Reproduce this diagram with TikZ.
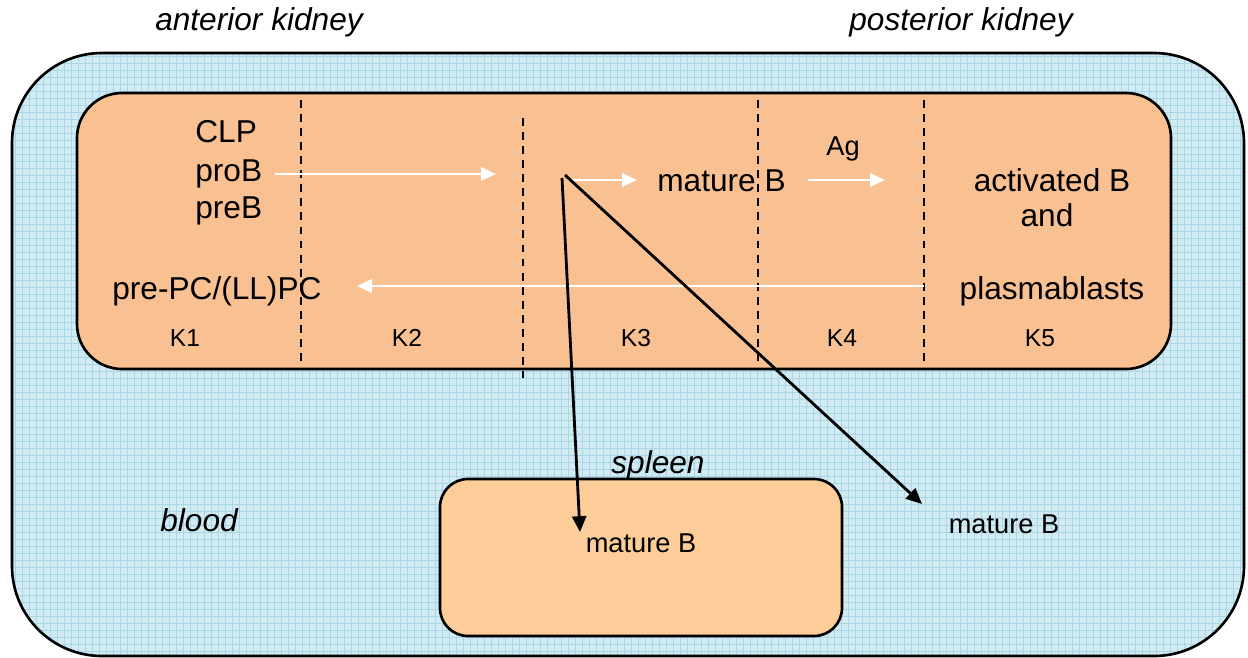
\documentclass[tikz,border=0pt]{standalone}
\usepackage{fontspec}
\setmainfont{Liberation Sans}
\usetikzlibrary{arrows.meta}
\definecolor{bloodblue}{RGB}{210,235,243}
\definecolor{gridblue}{RGB}{170,215,229}
\definecolor{kidney}{RGB}{249,193,145}
\definecolor{spleenfill}{RGB}{252,204,153}
\begin{document}
\begin{tikzpicture}[x=0.02cm,y=-0.02cm,
  big/.style={font=\fontsize{18}{21}\selectfont,inner sep=0pt},
  mid/.style={font=\fontsize{15.5}{18}\selectfont,inner sep=0pt},
  small/.style={font=\fontsize{14}{17}\selectfont,inner sep=0pt},
  wharrow/.style={white,line width=1.6pt,-{Triangle[length=8.5pt,width=7.5pt]}},
  bkarrow/.style={black,line width=1.6pt,-{Triangle[length=9pt,width=8pt]}},
  zone/.style={line width=1.1pt,dash pattern=on 4.5pt off 3.5pt}]
  \useasboundingbox (0,0) rectangle (1248,657);
  % blood
  \begin{scope}
    \clip[rounded corners=1.8cm] (12,53) rectangle (1244,656);
    \fill[bloodblue] (12,53) rectangle (1244,656);
    \foreach \gx in {15,22,...,1244}
      \draw[gridblue,line width=0.5pt] (\gx,53) -- (\gx,656);
    \foreach \gy in {56,63,...,656}
      \draw[gridblue,line width=0.5pt] (12,\gy) -- (1244,\gy);
  \end{scope}
  \draw[line width=1.5pt,rounded corners=1.8cm] (12,53) rectangle (1244,656);
  % kidney and spleen
  \draw[fill=kidney,line width=1.5pt,rounded corners=0.9cm] (77,93) rectangle (1171,369);
  \draw[fill=spleenfill,line width=1.5pt,rounded corners=0.56cm] (440,479) rectangle (842,636);
  % zones
  \draw[zone] (301,100) -- (301,362);
  \draw[zone] (523,118) -- (523,378);
  \draw[zone] (758,100) -- (758,362);
  \draw[zone] (924,100) -- (924,365);
  % texts
  \node[big,font=\fontsize{18}{21}\selectfont\itshape] (ant) at (259,22) {anterior kidney};
  \node[big,font=\fontsize{18}{21}\selectfont\itshape] (post) at (961,22) {posterior kidney};
  \node[big,anchor=base west] (clp) at (195,142) {CLP};
  \node[big,anchor=base west] (prob) at (195,181) {proB};
  \node[big,anchor=base west] (preb) at (195,218) {preB};
  \node[big,anchor=base west] (mat) at (657,191) {mature B};
  \node[mid,anchor=base] (ag) at (843,155) {Ag};
  \node[big,anchor=base] (act) at (1052,191) {activated B};
  \node[big,anchor=base] (and) at (1047,226) {and};
  \node[big,anchor=base] (plasma) at (1052,299) {plasmablasts};
  \node[big,anchor=base west] (prepc) at (112,299) {pre-PC/(LL)PC};
  \node[small,anchor=base] (k1) at (185,346) {K1};
  \node[small,anchor=base] (k2) at (407,346) {K2};
  \node[small,anchor=base] (k3) at (636,346) {K3};
  \node[small,anchor=base] (k4) at (842,346) {K4};
  \node[small,anchor=base] (k5) at (1040,346) {K5};
  \node[big,font=\fontsize{18}{21}\selectfont\itshape,anchor=base] (spleen) at (658,473) {spleen};
  \node[big,font=\fontsize{18}{21}\selectfont\itshape,anchor=base] (blood) at (199,531) {blood};
  \node[mid,anchor=base] (smat) at (641,552) {mature B};
  \node[mid,anchor=base] (bmat) at (1004,533) {mature B};
  % arrows
  \coordinate (a1) at (275,174);
  \coordinate (a2) at (496,174);
  \coordinate (b1) at (568,180);
  \coordinate (b2) at (637,180);
  \coordinate (c1) at (808,180);
  \coordinate (c2) at (885,180);
  \coordinate (d1) at (924,286);
  \coordinate (d2) at (357,286);
  \coordinate (e0) at (562,178);
  \coordinate (e1) at (580,532);
  \coordinate (f0) at (565,175);
  \coordinate (f1) at (922,504);
  \draw[wharrow] (a1) -- (a2);
  \draw[wharrow] (b1) -- (b2);
  \draw[wharrow] (c1) -- (c2);
  \draw[wharrow] (d1) -- (d2);
  \draw[bkarrow] (e0) -- (e1);
  \draw[bkarrow] (f0) -- (f1);
\end{tikzpicture}
\end{document}
